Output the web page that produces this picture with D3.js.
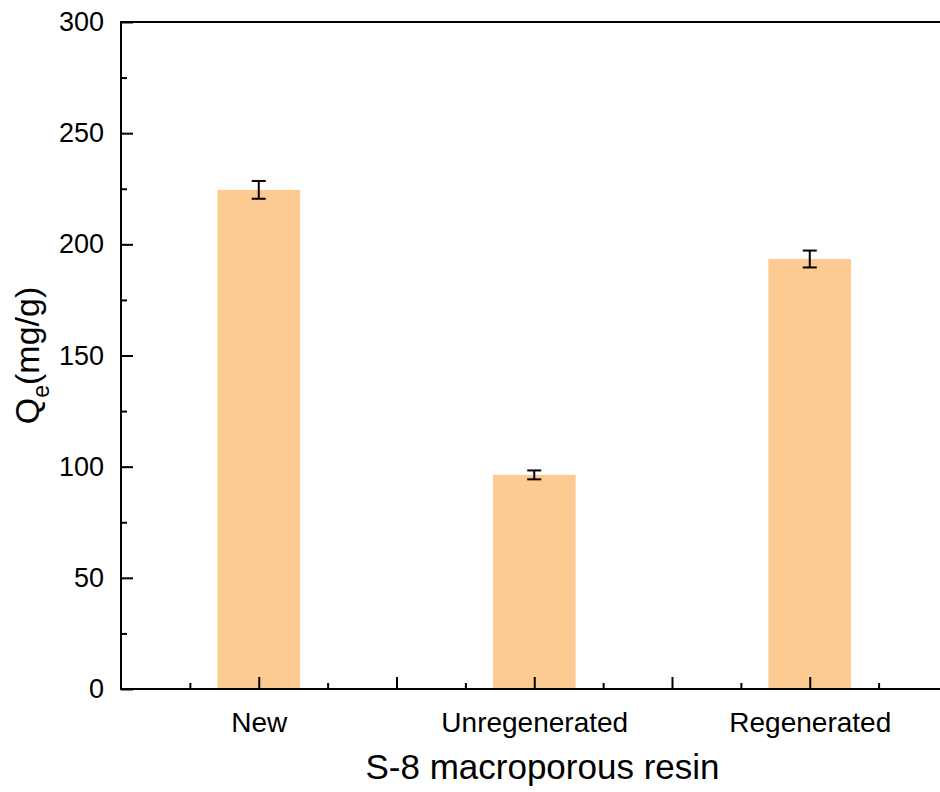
<!DOCTYPE html>
<html lang="en">
<head>
    <script src="https://d3js.org/d3.v7.min.js"></script>
    <style>
        body { margin: 0; background: #fff; }
        * { font-family: "Liberation Sans", Arial, sans-serif; }
    </style>
</head>
<body>
<svg id="chart" width="940" height="792"></svg>
<script>
    // data
    const categories = ["New", "Unregenerated", "Regenerated"];
    const qeValues = [224.5, 96.3, 193.4];
    const qeErrors = [4.0, 2.0, 3.8];
    const yTicks = [0, 50, 100, 150, 200, 250, 300];

    const margin = {left: 121, top: 22, bottom: 103};
    const width = 940, height = 792;

    const svg = d3.select("#chart");

    // categories sit at 1,2,3 on a linear axis from 0.5 to 3.5
    const x = d3.scaleLinear().domain([0.5, 3.5]).range([margin.left, margin.left + 3 * 275.5]);
    const y = d3.scaleLinear().domain([0, 300]).range([height - margin.bottom, margin.top]);
    const barW = x(1.3) - x(1);

    const data = categories.map((c, i) => ({name: c, pos: i + 1, v: qeValues[i], e: qeErrors[i]}));

    // bars
    svg.selectAll("rect.bar").data(data).enter().append("rect")
        .attr("class", "bar")
        .attr("x", d => x(d.pos) - barW / 2)
        .attr("y", d => y(d.v))
        .attr("width", barW)
        .attr("height", d => y(0) - y(d.v))
        .attr("fill", "#fdcb92");

    // error bars
    const err = svg.selectAll("g.err").data(data).enter().append("g").attr("class", "err")
        .attr("stroke", "#000").attr("stroke-width", 2);
    err.append("line")
        .attr("x1", d => x(d.pos)).attr("x2", d => x(d.pos))
        .attr("y1", d => y(d.v + d.e)).attr("y2", d => y(d.v - d.e));
    err.append("line")
        .attr("x1", d => x(d.pos) - 7).attr("x2", d => x(d.pos) + 7)
        .attr("y1", d => y(d.v + d.e)).attr("y2", d => y(d.v + d.e));
    err.append("line")
        .attr("x1", d => x(d.pos) - 7).attr("x2", d => x(d.pos) + 7)
        .attr("y1", d => y(d.v - d.e)).attr("y2", d => y(d.v - d.e));

    // y axis (ticks inward)
    const yAxis = svg.append("g").attr("transform", `translate(${x(0.5)},0)`)
        .call(d3.axisLeft(y).tickValues(yTicks).tickSizeInner(-12).tickSizeOuter(0).tickPadding(17));
    yAxis.selectAll("text").attr("font-size", 27).attr("fill", "#000")
        .style("font-family", "'Liberation Sans', Arial, sans-serif");
    yAxis.select(".domain").remove();
    yAxis.selectAll(".tick line").attr("stroke-width", 2);
    svg.append("g").attr("transform", `translate(${x(0.5)},0)`)
        .call(d3.axisLeft(y).tickValues(d3.range(25, 300, 50)).tickSize(-6).tickFormat(""))
        .call(g => g.select(".domain").remove())
        .selectAll(".tick line").attr("stroke-width", 2);

    // x axis (ticks inward)
    const xAxis = svg.append("g").attr("transform", `translate(0,${y(0)})`)
        .call(d3.axisBottom(x).tickValues([1, 2, 3]).tickSize(-12).tickPadding(23)
            .tickFormat((d, i) => categories[i]));
    xAxis.select(".domain").remove();
    xAxis.selectAll("text").attr("font-size", 28).attr("fill", "#000")
        .style("font-family", "'Liberation Sans', Arial, sans-serif");
    xAxis.selectAll(".tick line").attr("stroke-width", 2);
    svg.append("g").attr("transform", `translate(0,${y(0)})`)
        .call(d3.axisBottom(x).tickValues([1.5, 2.5, 3.5]).tickSize(-12).tickFormat(""))
        .call(g => g.select(".domain").remove())
        .selectAll(".tick line").attr("stroke-width", 2);
    svg.append("g").attr("transform", `translate(0,${y(0)})`)
        .call(d3.axisBottom(x).tickValues([0.75, 1.25, 1.75, 2.25, 2.75, 3.25]).tickSize(-6).tickFormat(""))
        .call(g => g.select(".domain").remove())
        .selectAll(".tick line").attr("stroke-width", 2);

    // frame
    svg.append("rect")
        .attr("x", x(0.5)).attr("y", y(300))
        .attr("width", x(3.5) - x(0.5)).attr("height", y(0) - y(300))
        .attr("fill", "none").attr("stroke", "#000").attr("stroke-width", 2);

    // axis titles
    svg.append("text")
        .attr("x", (x(0.5) + 940) / 2 + 12).attr("y", 779)
        .attr("text-anchor", "middle").attr("font-size", 35)
        .text("S-8 macroporous resin");

    const yt = svg.append("text")
        .attr("transform", `translate(39,${(y(0) + y(300)) / 2}) rotate(-90)`)
        .attr("text-anchor", "middle").attr("font-size", 34);
    yt.append("tspan").text("Q");
    yt.append("tspan").attr("font-size", 23).attr("dy", 10).text("e");
    yt.append("tspan").attr("dy", -10).text("(mg/g)");
</script>
</body>
</html>
